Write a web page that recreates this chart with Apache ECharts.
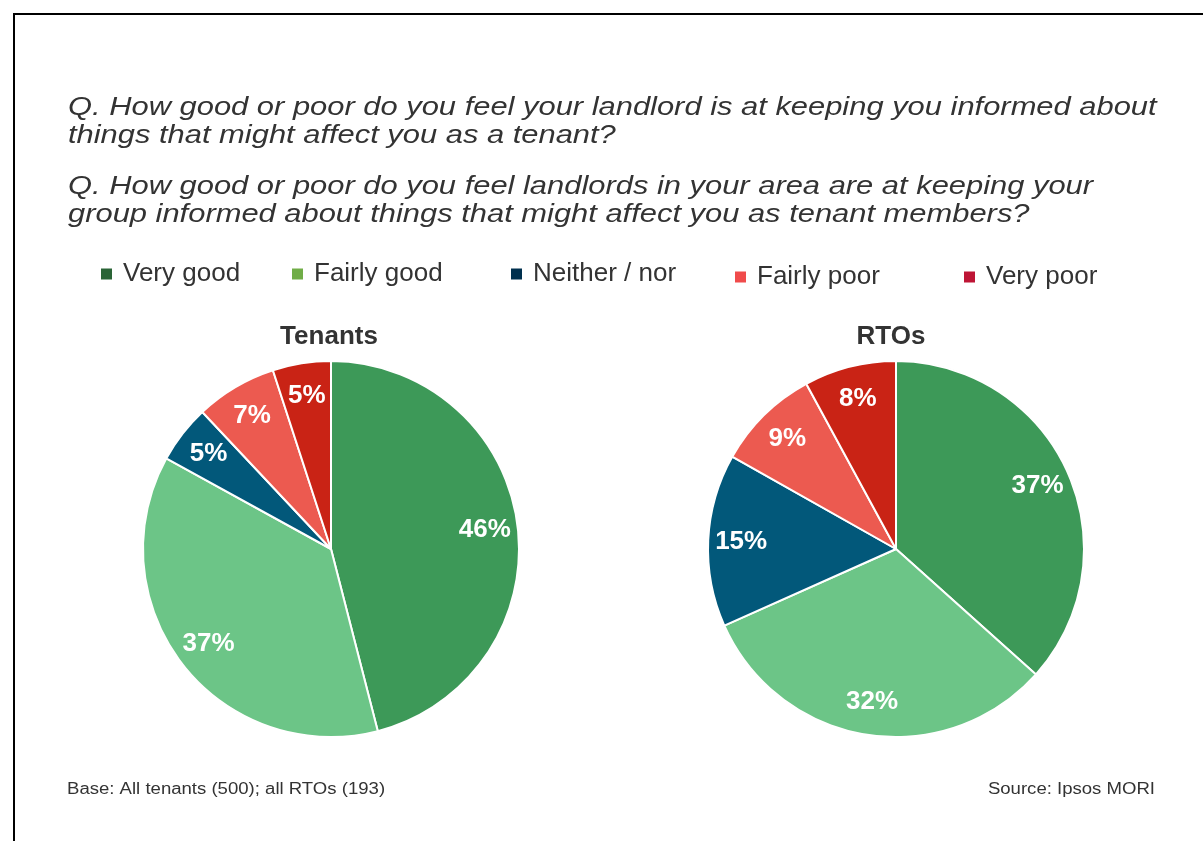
<!DOCTYPE html>
<html>
<head>
<meta charset="utf-8">
<title>Landlord communication</title>
<script src="https://cdn.jsdelivr.net/npm/echarts@6/dist/echarts.min.js"></script>
<style>
  html, body { margin: 0; padding: 0; background: #fff; }
  #chart { width: 1203px; height: 841px; }
</style>
</head>
<body>
<div id="chart"></div>
<script>
// data
var categories = ["Very good", "Fairly good", "Neither / nor", "Fairly poor", "Very poor"];
var tenantsValues = [46, 37, 5, 7, 5];
var rtoValues = [37, 32, 15, 9, 8];

var questionLines = [
  "Q. How good or poor do you feel your landlord is at keeping you informed about",
  "things that might affect you as a tenant?",
  "Q. How good or poor do you feel landlords in your area are at keeping your",
  "group informed about things that might affect you as tenant members?"
];
var questionY = [108, 136, 187, 215];

var sliceColors = ["#3d9958", "#6cc587", "#02587a", "#ec5a50", "#c92315"];
var legendColors = ["#2a6436", "#70ad47", "#00304e", "#f04b4b", "#be1535"];
var legendLeft = [94, 285, 504, 728, 957];
var legendTop = [256, 256, 256, 259, 259];

var FONT = "'Liberation Sans', Arial, sans-serif";

function pieData(values) {
  return values.map(function (v, i) {
    return { name: categories[i], value: v, itemStyle: { color: sliceColors[i] } };
  });
}

// one legend per item so spacing matches the slide
var legends = categories.map(function (name, i) {
  return {
    data: [name],
    left: legendLeft[i],
    top: legendTop[i],
    icon: "rect",
    itemWidth: 13,
    itemHeight: 13,
    selectedMode: false,
    itemStyle: { color: legendColors[i] },
    textStyle: {
      fontFamily: FONT,
      fontSize: 26,
      color: "#333",
      lineHeight: 26,
      padding: [0, 0, 0, 5]
    }
  };
});

function pieSeries(values, cx) {
  return [
    {
      type: "pie",
      center: [cx, 549],
      radius: 188,
      startAngle: 90,
      silent: true,
      label: { show: false },
      labelLine: { show: false },
      itemStyle: { borderColor: "#fff", borderWidth: 2 },
      data: pieData(values)
    },
    {
      // transparent ring only used to place the labels further out
      type: "pie",
      center: [cx, 549],
      radius: [116, 188],
      startAngle: 90,
      silent: true,
      itemStyle: { color: "rgba(0,0,0,0)", borderWidth: 0 },
      label: {
        show: true,
        position: "inside",
        formatter: "{c}%",
        fontFamily: FONT,
        fontSize: 26,
        fontWeight: "bold",
        color: "#fff"
      },
      labelLine: { show: false },
      data: values.map(function (v, i) {
        return { name: categories[i], value: v, itemStyle: { color: "rgba(0,0,0,0)" } };
      })
    }
  ];
}

// slide text is a bit wider than Liberation Sans, so stretch it
var texts = questionLines.map(function (line, i) {
  return {
    type: "text",
    x: 68,
    y: questionY[i],
    scaleX: 1.188,
    silent: true,
    style: {
      text: line,
      fontFamily: FONT,
      fontSize: 26,
      fontStyle: "italic",
      fill: "#333",
      verticalAlign: "middle"
    }
  };
});
texts.push({
  type: "text",
  x: 67,
  y: 790,
  scaleX: 1.16,
  silent: true,
  style: { text: "Base: All tenants (500); all RTOs (193)", fontFamily: FONT, fontSize: 16, fill: "#333", verticalAlign: "middle" }
});
texts.push({
  type: "text",
  x: 1155,
  y: 790,
  scaleX: 1.16,
  silent: true,
  style: { text: "Source: Ipsos MORI", fontFamily: FONT, fontSize: 16, fill: "#333", align: "right", verticalAlign: "middle" }
});
texts.push({
  type: "rect",
  shape: { x: 14, y: 14, width: 1260, height: 900 },
  style: { fill: "none", stroke: "#000", lineWidth: 2 },
  silent: true
});

var chart = echarts.init(document.getElementById("chart"));
chart.setOption({
  backgroundColor: "#fff",
  animation: false,
  title: [
    {
      text: "Tenants",
      left: 324,
      top: 319,
      textAlign: "center",
      textStyle: { fontFamily: FONT, fontSize: 26, fontWeight: "bold", color: "#333" }
    },
    {
      text: "RTOs",
      left: 886,
      top: 319,
      textAlign: "center",
      textStyle: { fontFamily: FONT, fontSize: 26, fontWeight: "bold", color: "#333" }
    }
  ],
  legend: legends,
  graphic: texts,
  series: pieSeries(tenantsValues, 331).concat(pieSeries(rtoValues, 896))
});
</script>
</body>
</html>
